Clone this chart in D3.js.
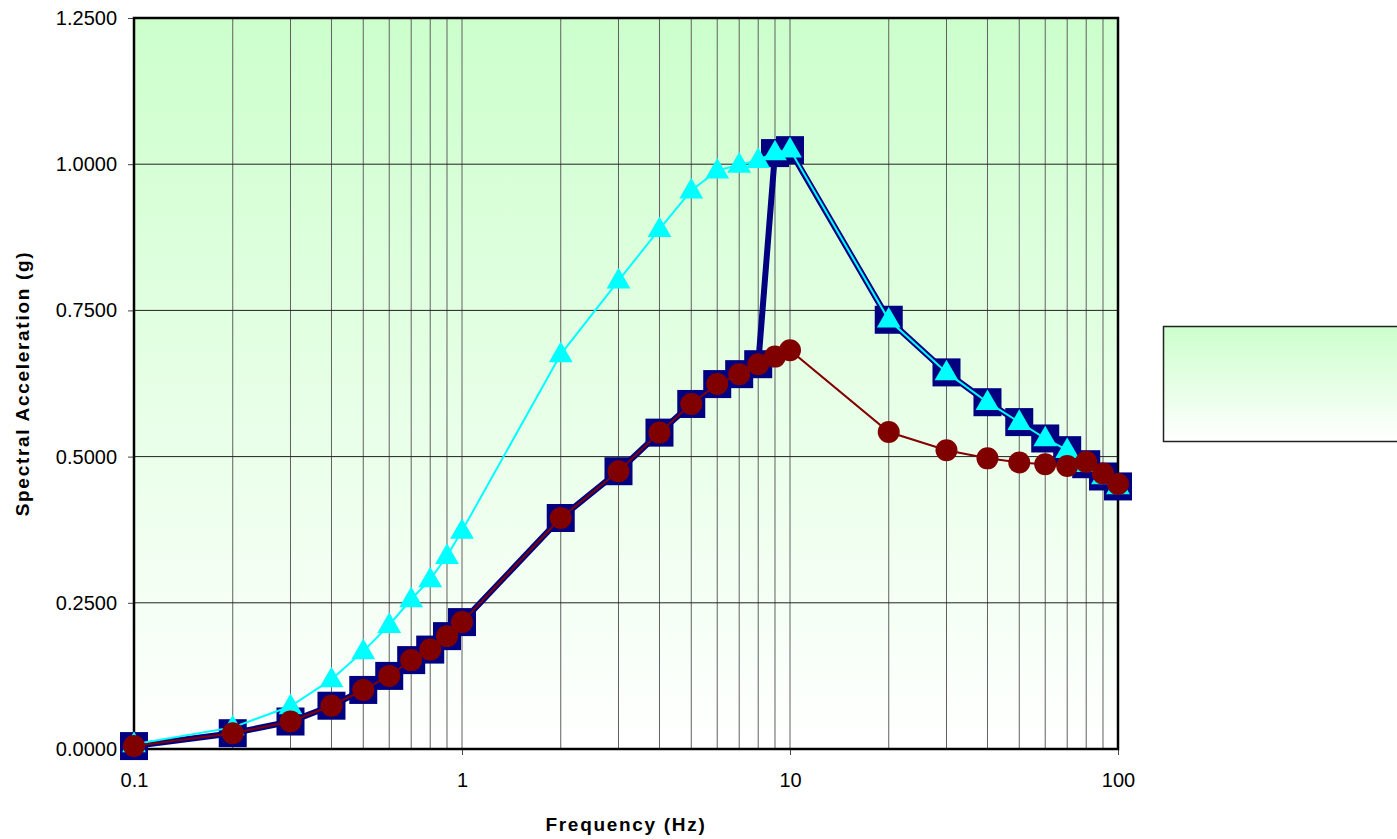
<!DOCTYPE html>
<html>
<head>
<meta charset="utf-8">
<script src="https://cdn.jsdelivr.net/npm/d3@7"></script>
<style>
  body { margin: 0; background: #fff; }
  text { font-family: Arial, "Liberation Sans", sans-serif; }
</style>
</head>
<body>
<div id="chart"></div>
<script>
// data
const freq = [0.1, 0.2, 0.3, 0.4, 0.5, 0.6, 0.7, 0.8, 0.9, 1, 2, 3, 4, 5, 6, 7, 8, 9, 10, 20, 30, 40, 50, 60, 70, 80, 90, 100];
const envelope = [0.005, 0.027, 0.047, 0.074, 0.101, 0.125, 0.152, 0.170, 0.193, 0.217, 0.395, 0.475, 0.541, 0.590, 0.624, 0.641, 0.658, 1.019, 1.024, 0.734, 0.644, 0.593, 0.559, 0.531, 0.511, 0.487, 0.466, 0.449];
const upper = [0.008, 0.037, 0.073, 0.119, 0.167, 0.212, 0.256, 0.290, 0.330, 0.373, 0.675, 0.801, 0.889, 0.955, 0.989, 0.999, 1.007, 1.020, 1.025, 0.734, 0.644, 0.593, 0.559, 0.531, 0.511, 0.487, 0.466, 0.449];
const lower = [0.005, 0.027, 0.047, 0.074, 0.101, 0.125, 0.152, 0.170, 0.193, 0.217, 0.395, 0.475, 0.541, 0.590, 0.624, 0.641, 0.658, 0.671, 0.682, 0.542, 0.511, 0.497, 0.490, 0.487, 0.484, 0.491, 0.471, 0.453];
const yTicks = [0, 0.25, 0.5, 0.75, 1.0, 1.25];
const xTicks = [0.1, 1, 10, 100];

const svgWidth = 1397;
const svgHeight = 839;
const margin = { top: 18, right: 279, bottom: 90, left: 134 };
const width = svgWidth - margin.left - margin.right;
const height = svgHeight - margin.top - margin.bottom;

const svg = d3.select("#chart")
  .append("svg")
  .attr("width", svgWidth)
  .attr("height", svgHeight);

const defs = svg.append("defs");
const grad = defs.append("linearGradient")
  .attr("id", "bg").attr("x1", 0).attr("y1", 0).attr("x2", 0).attr("y2", 1);
grad.append("stop").attr("offset", "0%").attr("stop-color", "#ccffcc");
grad.append("stop").attr("offset", "100%").attr("stop-color", "#ffffff");

const chartGroup = svg.append("g")
  .attr("transform", `translate(${margin.left}, ${margin.top})`);

const x = d3.scaleLog().domain([0.1, 100]).range([0, width]);
const y = d3.scaleLinear().domain([0, 1.25]).range([height, 0]);

// plot background
chartGroup.append("rect")
  .attr("width", width).attr("height", height)
  .attr("fill", "url(#bg)");

// vertical grid on every log tick
const minor = [];
for (let p = -1; p < 2; p++) {
  for (let m = 1; m < 10; m++) {
    const v = +(m * Math.pow(10, p)).toPrecision(3);
    if (v > 0.1 && v < 100) minor.push(v);
  }
}
chartGroup.append("g")
  .selectAll("line")
  .data(minor)
  .enter()
  .append("line")
  .attr("x1", d => x(d)).attr("x2", d => x(d))
  .attr("y1", 0).attr("y2", height)
  .attr("stroke", "#606060").attr("stroke-width", 1);

// horizontal grid
chartGroup.append("g")
  .selectAll("line")
  .data(yTicks.slice(1, -1))
  .enter()
  .append("line")
  .attr("x1", 0).attr("x2", width)
  .attr("y1", d => y(d)).attr("y2", d => y(d))
  .attr("stroke", "#222").attr("stroke-width", 1);

// axes
const leftAxis = d3.axisLeft(y).tickValues(yTicks).tickFormat(d3.format(".4f")).tickSize(6).tickPadding(11);
const bottomAxis = d3.axisBottom(x).tickValues(xTicks).tickFormat(d => d).tickSize(6).tickPadding(18);

const gy = chartGroup.append("g").call(leftAxis);
const gx = chartGroup.append("g").attr("transform", `translate(0, ${height})`).call(bottomAxis);
[gx, gy].forEach(g => {
  g.select(".domain").remove();
  g.selectAll("line").attr("stroke", "#444");
  g.selectAll("text").attr("font-size", 20).attr("fill", "#000")
    .style("font-family", "Arial, 'Liberation Sans', sans-serif");
});

// frame
chartGroup.append("rect")
  .attr("width", width).attr("height", height)
  .attr("fill", "none").attr("stroke", "#000").attr("stroke-width", 2.5);

const pts = vals => freq.map((f, i) => [f, vals[i]]);
const line = d3.line().x(d => x(d[0])).y(d => y(d[1]));

// envelope: thick navy with squares
chartGroup.append("path")
  .attr("d", line(pts(envelope)))
  .attr("fill", "none").attr("stroke", "#000080").attr("stroke-width", 6);
chartGroup.append("g")
  .selectAll("rect")
  .data(pts(envelope))
  .enter()
  .append("rect")
  .attr("x", d => x(d[0]) - 14).attr("y", d => y(d[1]) - 14)
  .attr("width", 28).attr("height", 28)
  .attr("fill", "#000080");

// upper: cyan triangles
chartGroup.append("path")
  .attr("d", line(pts(upper)))
  .attr("fill", "none").attr("stroke", "#00ffff").attr("stroke-width", 2);
const tri = d3.symbol().type(d3.symbolTriangle).size(245);
chartGroup.append("g")
  .selectAll("path")
  .data(pts(upper))
  .enter()
  .append("path")
  .attr("d", tri)
  .attr("transform", d => `translate(${x(d[0])}, ${y(d[1]) + 1})`)
  .attr("fill", "#00ffff");

// lower: dark red circles
chartGroup.append("path")
  .attr("d", line(pts(lower)))
  .attr("fill", "none").attr("stroke", "#800000").attr("stroke-width", 2);
chartGroup.append("g")
  .selectAll("circle")
  .data(pts(lower))
  .enter()
  .append("circle")
  .attr("cx", d => x(d[0])).attr("cy", d => y(d[1]))
  .attr("r", 11)
  .attr("fill", "#800000");

// axis titles
chartGroup.append("text")
  .attr("transform", "rotate(-90)")
  .attr("x", -(height / 2))
  .attr("y", -margin.left + 29)
  .attr("text-anchor", "middle")
  .attr("font-size", 19).attr("font-weight", "bold")
  .attr("letter-spacing", 1.7)
  .text("Spectral Acceleration (g)");

chartGroup.append("text")
  .attr("x", width / 2)
  .attr("y", height + 82)
  .attr("text-anchor", "middle")
  .attr("font-size", 19).attr("font-weight", "bold")
  .attr("letter-spacing", 1.7)
  .text("Frequency (Hz)");

// empty legend box
svg.append("rect")
  .attr("x", 1163.5).attr("y", 326.5)
  .attr("width", 250).attr("height", 115)
  .attr("fill", "url(#bg)")
  .attr("stroke", "#222").attr("stroke-width", 1.5);
</script>
</body>
</html>
